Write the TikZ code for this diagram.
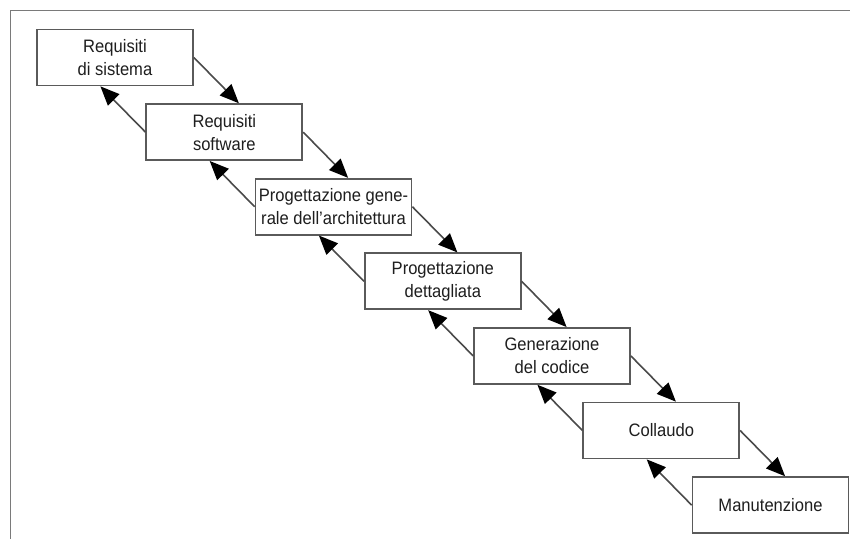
\documentclass[tikz,border=0pt]{standalone}
\usepackage{fontspec}
\setmainfont[FakeStretch=0.92]{Liberation Sans}
\usetikzlibrary{arrows.meta,calc}
\definecolor{framegray}{HTML}{7A7A7A}
\definecolor{boxgray}{HTML}{5A5A5A}
\definecolor{linegray}{HTML}{4A4A4A}
\definecolor{txt}{HTML}{1E1E1E}
\begin{document}
\begin{tikzpicture}[x=1pt,y=-1pt,
  phase/.style={draw=boxgray,line width=1.7pt,fill=white,minimum width=156pt,minimum height=56pt,
    inner sep=0pt,align=center,text=txt,font=\fontsize{18}{23}\selectfont},
  flow/.style={draw=linegray,line width=1.6pt,-{Triangle[length=19pt,width=16pt,color=black]}},
  frameline/.style={draw=framegray,line width=1.8pt}]
\useasboundingbox (0,0) rectangle (850,539);
\coordinate (ftr) at (850,10.5);
\coordinate (ftl) at (10.5,10.5);
\coordinate (fbl) at (10.5,539);
\draw[frameline] (ftr) -- (ftl) -- (fbl);
\node[phase] (b1) at (115,57.5) {Requisiti\\di sistema};
\node[phase] (b2) at (224.3,132.1) {Requisiti\\software};
\node[phase] (b3) at (333.5,206.7) {Progettazione gene-\\rale dell’architettura};
\node[phase] (b4) at (442.8,281.3) {Progettazione\\dettagliata};
\node[phase] (b5) at (552,355.9) {Generazione\\del codice};
\node[phase] (b6) at (661.3,430.5) {Collaudo};
\node[phase] (b7) at (770.5,505.1) {Manutenzione};
\foreach \a/\b in {b1/b2,b2/b3,b3/b4,b4/b5,b5/b6,b6/b7}{
  \draw[flow] (\a.east) -- ($(\b.north)+(14.6,0)$);
  \draw[flow] (\b.west) -- ($(\a.south)+(-14.6,0)$);
}
\end{tikzpicture}
\end{document}
